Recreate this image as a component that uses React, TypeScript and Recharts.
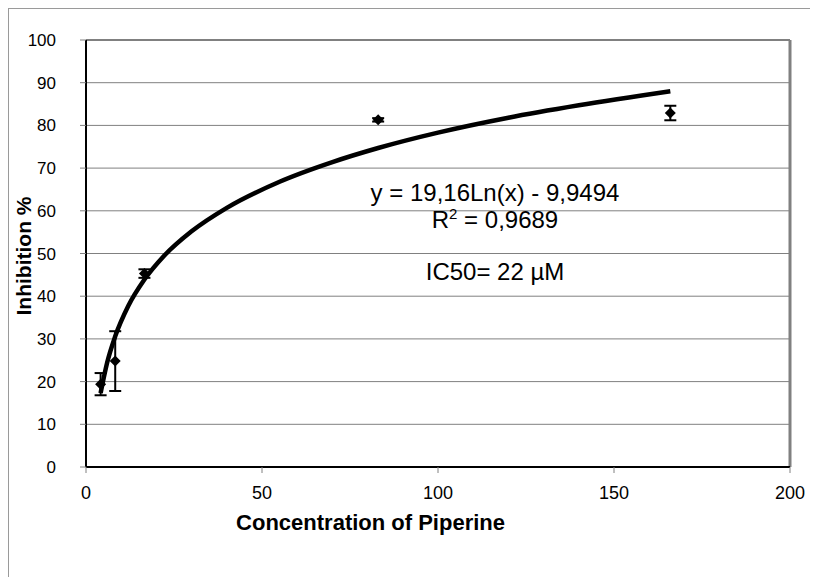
import React from "react";
import {
  ComposedChart,
  Line,
  Scatter,
  ErrorBar,
  XAxis,
  YAxis,
  CartesianGrid,
  ReferenceLine,
} from "recharts";

// measured points (mean +/- sd)
const conc = [4.15, 8.3, 16.6, 83, 166];
const inhibition = [19.4, 24.8, 45.3, 81.3, 82.9];
const sd = [2.6, 7, 1, 0.4, 1.7];

// log trend line
const fitX = [4.15, 6, 8.3, 12, 16.6, 22, 30, 40, 55, 70, 83, 100, 120, 140, 166];
const fitY = [17.3, 24.4, 30.6, 37.7, 43.9, 49.3, 55.2, 60.7, 66.8, 71.4, 74.7, 78.3, 81.8, 84.7, 88.0];

const xTicks = [0, 50, 100, 150, 200];
const yTicks = [0, 10, 20, 30, 40, 50, 60, 70, 80, 90, 100];

const points = conc.map((x, i) => ({ x, y: inhibition[i], err: sd[i] }));
const fit = fitX.map((x, i) => ({ x, fy: fitY[i] }));

const FONT = '"Liberation Sans", Arial, sans-serif';

const Diamond = (props: any) => {
  const { cx, cy } = props;
  const r = 5.5;
  return (
    <polygon
      points={`${cx},${cy - r} ${cx + r},${cy} ${cx},${cy + r} ${cx - r},${cy}`}
      fill="#000"
    />
  );
};

export default function App() {
  const tick = { fill: "#000", fontSize: 18, fontFamily: FONT };
  return (
    <div
      style={{
        position: "relative",
        width: 809,
        height: 568,
        borderTop: "1px solid #9a9a9a",
        borderLeft: "1px solid #9a9a9a",
        background: "#fff",
        fontFamily: FONT,
      }}
    >
      <ComposedChart
        width={809}
        height={568}
        margin={{ top: 31, right: 28, bottom: 0, left: 0 }}
      >
        <CartesianGrid horizontal vertical={false} stroke="#808080" strokeWidth={1} />
        <XAxis
          type="number"
          dataKey="x"
          domain={[0, 200]}
          ticks={xTicks}
          interval={0}
          height={110}
          tick={tick}
          tickSize={6}
          tickMargin={13}
          tickLine={{ stroke: "#808080" }}
          axisLine={{ stroke: "#000", strokeWidth: 2 }}
        />
        <YAxis
          type="number"
          domain={[0, 100]}
          ticks={yTicks}
          interval={0}
          width={77}
          tick={{ ...tick, fontSize: 17 }}
          tickSize={6}
          tickMargin={24}
          tickLine={{ stroke: "#808080" }}
          axisLine={{ stroke: "#000", strokeWidth: 2 }}
        />
        <ReferenceLine y={100} stroke="#808080" strokeWidth={2} />
        <ReferenceLine x={200} stroke="#808080" strokeWidth={3} />
        <Line
          data={fit}
          dataKey="fy"
          type="monotone"
          stroke="#000"
          strokeWidth={4.5}
          dot={false}
          isAnimationActive={false}
        />
        <Scatter data={points} dataKey="y" shape={Diamond} isAnimationActive={false}>
          <ErrorBar dataKey="err" direction="y" width={6} stroke="#000" strokeWidth={2} />
        </Scatter>
      </ComposedChart>

      <div
        style={{
          position: "absolute",
          left: 286,
          width: 400,
          top: 172,
          textAlign: "center",
          fontSize: 24,
          lineHeight: "24px",
        }}
      >
        <div>y = 19,16Ln(x) - 9,9494</div>
        <div style={{ marginTop: 3 }}>
          R<sup style={{ fontSize: 15, lineHeight: 0 }}>2</sup> = 0,9689
        </div>
        <div style={{ marginTop: 28 }}>IC50= 22 µM</div>
      </div>

      <div
        style={{
          position: "absolute",
          left: 96,
          width: 400,
          top: 502,
          textAlign: "right",
          fontSize: 22,
          fontWeight: "bold",
          lineHeight: "24px",
        }}
      >
        Concentration of Piperine
      </div>

      <div
        style={{
          position: "absolute",
          left: 15 - 100,
          top: 247 - 11,
          width: 200,
          textAlign: "center",
          fontSize: 21,
          fontWeight: "bold",
          lineHeight: "22px",
          transform: "rotate(-90deg)",
        }}
      >
        Inhibition %
      </div>
    </div>
  );
}
